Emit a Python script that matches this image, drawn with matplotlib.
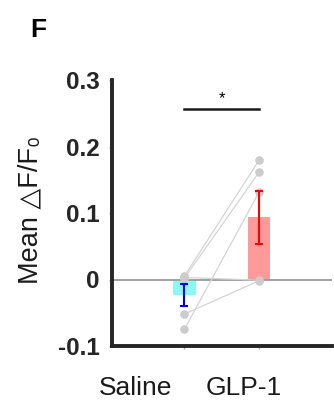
import numpy as np
import matplotlib
matplotlib.use("Agg")
import matplotlib.pyplot as plt
from matplotlib.transforms import blended_transform_factory

plt.rcParams['font.family'] = ['Liberation Sans', 'DejaVu Sans']

# Per-animal mean dF/F0, paired across conditions
categories = ["Saline", "GLP-1"]
saline_vals = [0.005, 0.002, -0.075, -0.052, 0.003]
glp1_vals = [0.179, 0.161, 0.131, -0.002, -0.001]
yticks = [-0.1, 0, 0.1, 0.2, 0.3]
ytick_labels = ["-0.1", "0", "0.1", "0.2", "0.3"]
sig_label = "*"
sig_height = 0.257

groups = [np.array(saline_vals), np.array(glp1_vals)]
means = [g.mean() for g in groups]
sems = [g.std(ddof=1) / np.sqrt(len(g)) for g in groups]

bar_colors = ["#8cf7f7", "#ff9a9a"]
err_colors = ["#0000ff", "#ff0000"]
xpos = np.array([1, 2])

fig = plt.figure(figsize=(3.34, 4.04), dpi=100)
ax = fig.add_axes([112 / 334, 58 / 404, 220 / 334, 266 / 404])

ax.bar(xpos, means, width=0.3, color=bar_colors, zorder=1)
ax.axhline(0, color="#9a9a9a", lw=1.3, zorder=2)

for s, g in zip(saline_vals, glp1_vals):
    ax.plot(xpos, [s, g], color="#d4d4d4", lw=0.9, zorder=3)
for x, g in zip(xpos, groups):
    ax.scatter(np.full(len(g), x), g, s=38, color="#cccccc", zorder=4,
               linewidths=0)

for x, m, e, c in zip(xpos, means, sems, err_colors):
    ax.errorbar(x, m, yerr=e, color=c, lw=1.5, capsize=2.6, capthick=1.5,
                zorder=5)

# significance bracket
ax.plot(xpos, [sig_height, sig_height], color="#1a1a1a", lw=1.8,
        clip_on=False)
ax.text(xpos.mean(), sig_height + 0.004, sig_label, ha="center",
        va="bottom", fontsize=12)

ax.set_xlim(0.03, 2.98)
ax.set_ylim(-0.1, 0.3)
ax.set_yticks(yticks)
ax.set_yticklabels(ytick_labels, fontsize=17.5, fontweight="bold",
                   color="#262626")
ax.set_xticks(xpos)
ax.set_xticklabels([])
ax.tick_params(axis="both", length=2, width=1, color="#aaaaaa", pad=7)

for side in ["top", "right"]:
    ax.spines[side].set_visible(False)
for side in ["left", "bottom"]:
    ax.spines[side].set_linewidth(2.8)
    ax.spines[side].set_color("#262626")

# category names under the axis
trans = blended_transform_factory(ax.transData, ax.transAxes)
label_x = [0.34, 1.79]
for lx, name in zip(label_x, categories):
    ax.text(lx, -0.157, name, transform=trans, ha="center", va="center",
            fontsize=19, color="#1a1a1a")

fig.text(30 / 334, 1 - 210 / 404, "Mean \u25b3F/F\u2080", rotation=90,
         ha="center", va="center", fontsize=19.5, color="#1a1a1a",
         family=['Liberation Sans', 'DejaVu Sans'])
fig.text(30 / 334, 1 - 37 / 404, "F", ha="left", va="baseline",
         fontsize=19, fontweight="bold")

fig.savefig("out.png", dpi=100)
